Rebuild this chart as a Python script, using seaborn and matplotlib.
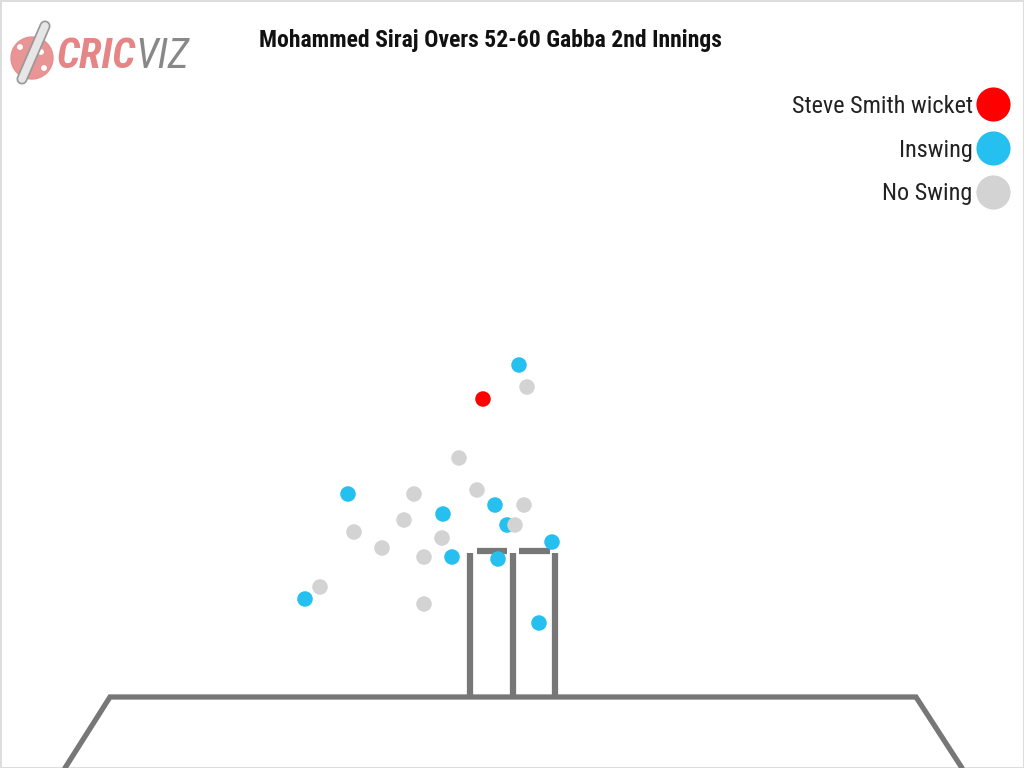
import matplotlib
matplotlib.use("Agg")
import matplotlib.pyplot as plt
from matplotlib import font_manager
from matplotlib.patches import Circle
import seaborn as sns
import pandas as pd

# ball positions as seen from behind the stumps (image pixels, y downwards)
ball_x = [519, 348, 443, 495, 507, 552, 452, 498, 305, 539,
          483,
          527, 459, 477, 414, 524, 404, 515, 354, 442, 382, 424, 320, 424]
ball_y = [365, 494, 514, 505, 525, 542, 557, 559, 599, 623,
          399,
          387, 458, 490, 494, 505, 520, 525, 532, 538, 548, 557, 587, 604]
ball_type = (["Inswing"] * 10 + ["Steve Smith wicket"] +
             ["No Swing"] * 13)

order = ["Steve Smith wicket", "Inswing", "No Swing"]
colors = {"Steve Smith wicket": "#ff0000", "Inswing": "#25c0f0",
          "No Swing": "#d3d3d3"}

df = pd.DataFrame({"x": ball_x, "y": ball_y, "type": ball_type})

# pick a narrow font if one is around
names = {f.name for f in font_manager.fontManager.ttflist}
narrow = "DejaVu Sans"
for cand in ["Roboto Condensed", "Liberation Sans Narrow", "Open Sans Condensed"]:
    if cand in names:
        narrow = cand
        break

sns.set_style("white")
plt.rcParams["font.family"] = [narrow, "DejaVu Sans"]

fig = plt.figure(figsize=(10.24, 7.68), dpi=100)
fig.patch.set_edgecolor("#dddddd")
fig.patch.set_linewidth(2)
ax = fig.add_axes([0, 0, 1, 1])
ax.set_xlim(0, 1024)
ax.set_ylim(768, 0)
ax.axis("off")

# pitch outline
ax.plot([65, 110, 916, 962], [768, 697, 697, 768], color="#777777", lw=3.8,
        solid_joinstyle="miter", zorder=1)

# stumps and bails
for sx in [470, 512.7, 555.3]:
    ax.plot([sx, sx], [553, 697], color="#777777", lw=4.5, solid_capstyle="butt", zorder=1)
ax.plot([476.5, 507], [550.5, 550.5], color="#777777", lw=4.5, solid_capstyle="butt", zorder=1)
ax.plot([519, 549.5], [550.5, 550.5], color="#777777", lw=4.5, solid_capstyle="butt", zorder=1)

sns.scatterplot(data=df, x="x", y="y", hue="type", hue_order=order,
                palette=colors, s=125, edgecolor="none", alpha=1,
                ax=ax, zorder=3)

leg = ax.legend(loc="upper right", bbox_to_anchor=(0.996, 0.889),
                markerfirst=False, frameon=False, markerscale=2.2,
                fontsize=17.5, labelspacing=0.85, handletextpad=0.15,
                handlelength=1.4, borderaxespad=0)
for t in leg.get_texts():
    t.set_color("#222222")

ax.text(490, 40, "Mohammed Siraj Overs 52-60 Gabba 2nd Innings",
        ha="center", va="center", fontsize=17, fontweight="bold", color="#111111")

# logo
ax.add_patch(Circle((32, 58), 21, color="#e88a8a", alpha=0.9, zorder=2))
for dx, dy in [(20, 47), (44, 68), (41, 52)]:
    ax.add_patch(Circle((dx, dy), 2.2, color="white", zorder=3))
ax.plot([22, 45], [79, 26], color="#999999", lw=8, solid_capstyle="round", zorder=4)
ax.plot([22, 45], [79, 26], color="#e6e6e6", lw=5.5, solid_capstyle="round", zorder=5)
ax.text(57, 57, "CRIC", ha="left", va="center", fontsize=30, fontweight="heavy",
        fontstyle="italic", color="#e58585")
ax.text(135, 57, "VIZ", ha="left", va="center", fontsize=30,
        fontstyle="italic", color="#888888")

fig.savefig("out.png", dpi=100)
